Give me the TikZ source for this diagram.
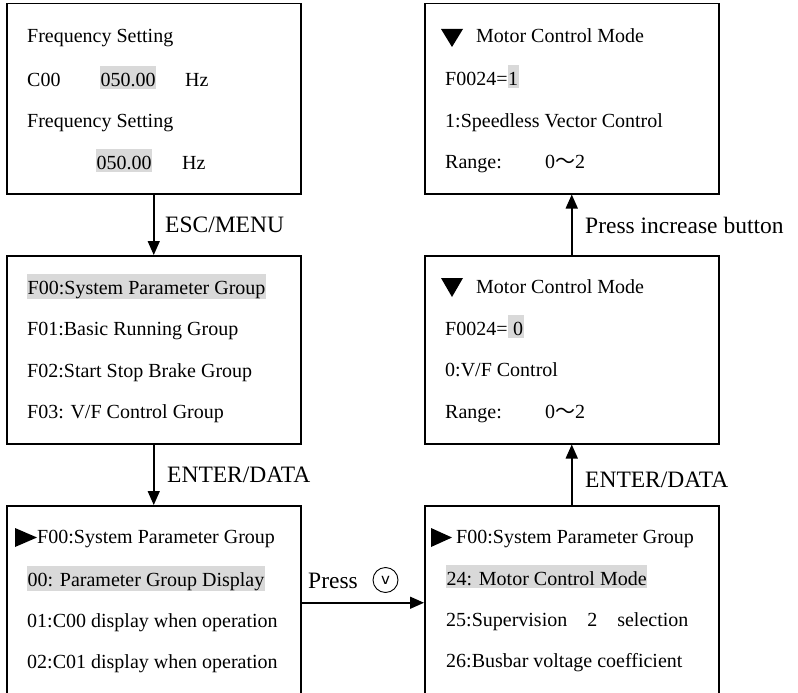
\documentclass[tikz,border=0pt]{standalone}
\usepackage{fontspec}
\setmainfont{Liberation Serif}
\newfontfamily\cjk{Noto Sans CJK SC}
\newfontfamily\btnfont{DejaVu Sans}
\usetikzlibrary{arrows.meta}
\definecolor{hlgray}{HTML}{D9D9D9}
\newcommand{\hlt}[1]{\begingroup\setlength{\fboxsep}{0.5pt}\colorbox{hlgray}{\rule[-2pt]{0pt}{22pt}#1}\endgroup}
\begin{document}
\begin{tikzpicture}[x=1pt,y=-1pt,
  box/.style={draw, line width=1.5pt, anchor=north west, inner sep=0, minimum width=294pt},
  txt/.style={anchor=base west, inner sep=0, font=\fontsize{20}{24}\selectfont},
  lbl/.style={anchor=base west, inner sep=0, font=\fontsize{23.5}{28}\selectfont},
  arr/.style={line width=1.5pt, -{Triangle[length=14pt,width=12pt]}},
  tri/.style={fill=black}]
\useasboundingbox (0,0) rectangle (798,693);
\clip (0,0) rectangle (798,693);
% boxes
\node[box, minimum height=190pt] (tl) at (6,3) {};
\node[box, minimum height=190pt] (tr) at (424,3) {};
\node[box, minimum height=188pt] (ml) at (6,255) {};
\node[box, minimum height=188pt] (mr) at (424,255) {};
\node[box, minimum height=194pt] (bl) at (6,505) {};
\node[box, minimum height=194pt] (br) at (424,505) {};
% connectors
\draw[arr] (tl) -- (ml);
\draw[arr] (ml) -- (bl);
\draw[arr] (bl) -- (br);
\draw[arr] (br) -- (mr);
\draw[arr] (mr) -- (tr);
% labels
\node[lbl] (l1) at (165,232) {ESC/MENU};
\node[lbl] (l2) at (167,482) {ENTER/DATA};
\node[lbl] (l3) at (585,233) {Press increase button};
\node[lbl] (l4) at (585,487) {ENTER/DATA};
\node[lbl] (l5) at (308,588) {Press};
\node[draw, circle, line width=0.9pt, minimum size=25pt, inner sep=0, font=\fontsize{15}{15}\btnfont] (btn) at (385.5,580) {v};
% top-left
\node[txt] (t1) at (27,43) {Frequency Setting};
\node[txt] (t2) at (27,86) {C00};
\node[txt] (t2v) at (100,86) {\hlt{050.00}};
\node[txt] (t2u) at (185,86) {Hz};
\node[txt] (t3) at (27,127) {Frequency Setting};
\node[txt] (t4v) at (96,169) {\hlt{050.00}};
\node[txt] (t4u) at (182,169) {Hz};
% top-right
\fill[tri] (441,29) -- (463,29) -- (452,47) -- cycle;
\node[txt] (r1) at (476,43) {Motor Control Mode};
\node[txt] (r2) at (445,85) {F0024=\hlt{1}};
\node[txt] (r3) at (445,127) {1:Speedless Vector Control};
\node[txt] (r4) at (445,168) {Range:};
\node[txt] (r4v) at (545,168) {0{\cjk ～}2};
% middle-left
\node[txt] (m1) at (27,294) {\hlt{F00:System Parameter Group}};
\node[txt] (m2) at (27,335) {F01:Basic Running Group};
\node[txt] (m3) at (27,377) {F02:Start Stop Brake Group};
\node[txt] (m4) at (27,418) {F03: V/F Control Group};
% middle-right
\fill[tri] (441,278) -- (463,278) -- (452,297) -- cycle;
\node[txt] (n1) at (476,293) {Motor Control Mode};
\node[txt] (n2) at (445,335) {F0024=\hlt{\ 0}};
\node[txt] (n3) at (445,376) {0:V/F Control};
\node[txt] (n4) at (445,418) {Range:};
\node[txt] (n4v) at (545,418) {0{\cjk ～}2};
% bottom-left
\fill[tri] (15,528) -- (37,537.5) -- (15,547) -- cycle;
\node[txt] (b1) at (37,543) {F00:System Parameter Group};
\node[txt] (b2) at (27,586) {\hlt{00: Parameter Group Display}};
\node[txt] (b3) at (27,627) {01:C00 display when operation};
\node[txt] (b4) at (27,668) {02:C01 display when operation};
% bottom-right
\fill[tri] (431,528) -- (452,537.5) -- (431,547) -- cycle;
\node[txt] (c1) at (456,543) {F00:System Parameter Group};
\node[txt] (c2) at (446,585) {\hlt{24: Motor Control Mode}};
\node[txt] (c3) at (446,626) {25:Supervision\hspace{20pt}2\hspace{20pt}selection};
\node[txt] (c4) at (446,667) {26:Busbar voltage coefficient};
\end{tikzpicture}
\end{document}
